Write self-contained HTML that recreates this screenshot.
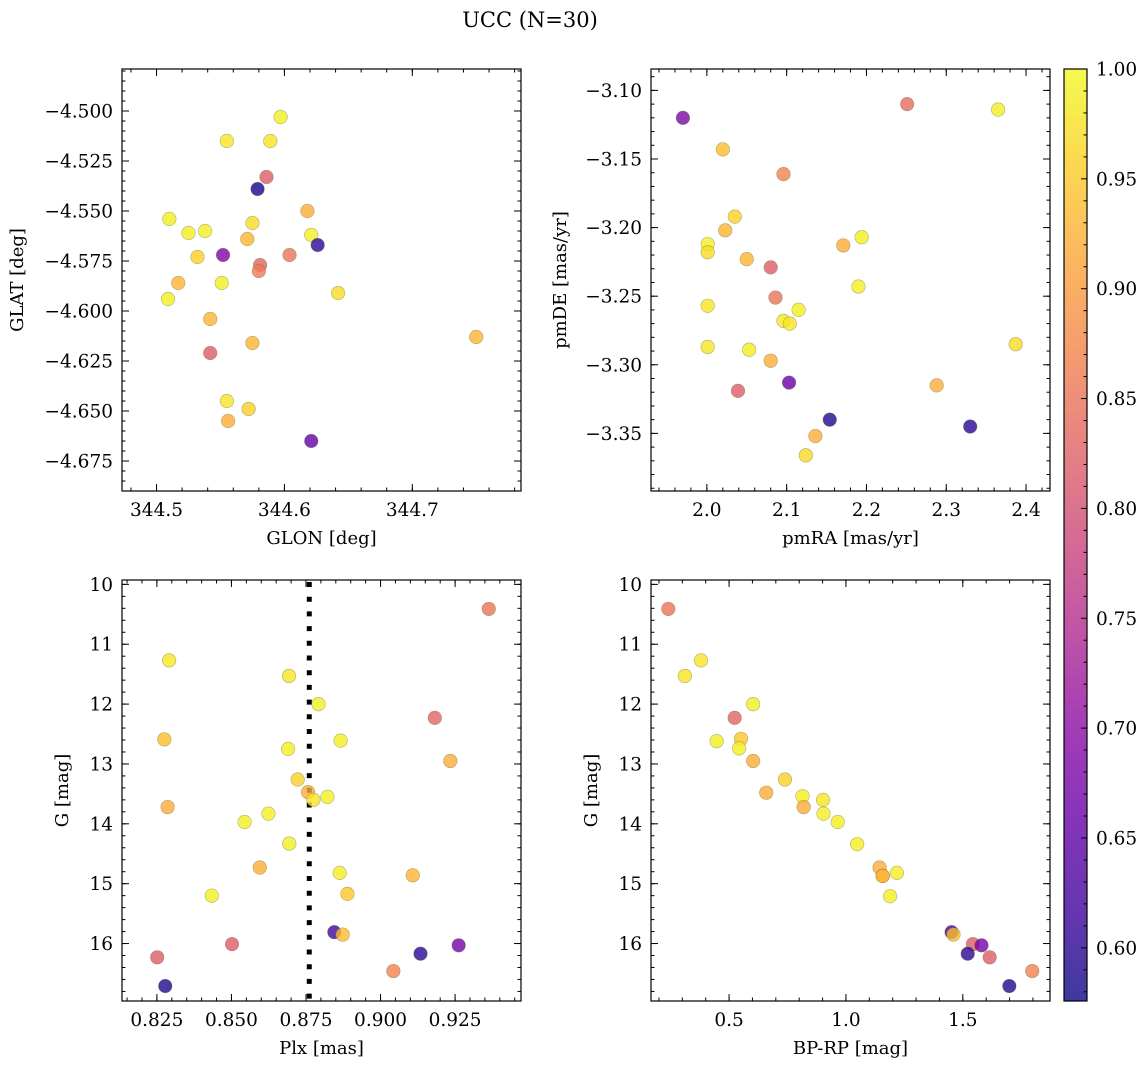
<!DOCTYPE html>
<html><head><meta charset="utf-8"><style>
html,body{margin:0;padding:0;background:#fff;}
svg{display:block;font-family:"DejaVu Serif","Liberation Serif",serif;}
</style></head><body>
<svg id="fig" width="1148" height="1068" viewBox="0 0 1148 1068" xmlns="http://www.w3.org/2000/svg">
<text x="530" y="27" font-size="21" text-anchor="middle">UCC (N=30)</text>
</svg>
<script>
// ---- data ----
const glon = [344.597,344.555,344.589,344.579,344.586,344.510,344.525,344.538,344.618,344.575,344.571,344.621,344.626,344.552,344.532,344.581,344.580,344.604,344.517,344.551,344.642,344.509,344.542,344.750,344.575,344.542,344.555,344.572,344.556,344.621];
const glat = [-4.503,-4.515,-4.515,-4.539,-4.533,-4.554,-4.561,-4.560,-4.550,-4.556,-4.564,-4.562,-4.567,-4.572,-4.573,-4.577,-4.580,-4.572,-4.586,-4.586,-4.591,-4.594,-4.604,-4.613,-4.616,-4.621,-4.645,-4.649,-4.655,-4.665];
const probTL = [0.99,0.98,0.98,0.58,0.82,0.99,0.99,0.99,0.92,0.97,0.93,0.99,0.60,0.68,0.96,0.83,0.86,0.85,0.93,0.99,0.97,0.99,0.93,0.93,0.93,0.82,0.98,0.96,0.92,0.65];

const pmra = [1.970,2.251,2.365,2.020,2.096,2.035,2.023,2.001,2.001,2.194,2.171,2.050,2.080,2.190,2.086,2.001,2.115,2.096,2.104,2.001,2.053,2.387,2.080,2.103,2.039,2.288,2.154,2.330,2.136,2.124];
const pmde = [-3.120,-3.110,-3.114,-3.143,-3.161,-3.192,-3.202,-3.212,-3.218,-3.207,-3.213,-3.223,-3.229,-3.243,-3.251,-3.257,-3.260,-3.268,-3.270,-3.287,-3.289,-3.285,-3.297,-3.313,-3.319,-3.315,-3.340,-3.345,-3.352,-3.366];
const probTR = [0.68,0.84,0.99,0.94,0.87,0.96,0.93,0.99,0.97,0.99,0.92,0.93,0.82,0.99,0.85,0.98,0.99,0.98,0.98,0.98,0.99,0.97,0.92,0.66,0.82,0.92,0.59,0.60,0.92,0.97];

const plx = [0.9363,0.8291,0.8693,0.8792,0.9182,0.8275,0.8866,0.8690,0.9234,0.8722,0.8757,0.8822,0.8775,0.8286,0.8624,0.8544,0.8694,0.8595,0.8863,0.9108,0.8889,0.8434,0.8845,0.8873,0.8502,0.9262,0.9134,0.8251,0.9043,0.8278];
const gBL = [10.41,11.27,11.53,12.00,12.23,12.59,12.61,12.75,12.95,13.26,13.47,13.55,13.60,13.72,13.83,13.97,14.33,14.73,14.82,14.86,15.17,15.20,15.81,15.85,16.01,16.03,16.17,16.23,16.46,16.71];
const probBL = [0.85,0.98,0.98,0.99,0.83,0.94,0.99,0.99,0.92,0.96,0.92,0.99,0.98,0.92,0.99,0.99,0.99,0.92,0.99,0.93,0.95,0.99,0.62,0.94,0.82,0.67,0.60,0.82,0.87,0.59];
const plxLine = [0.8761];

const bprp = [0.240,0.380,0.311,0.603,0.524,0.447,0.551,0.543,0.603,0.739,0.659,0.814,0.902,0.819,0.904,0.965,1.048,1.144,1.218,1.157,1.157,1.189,1.452,1.460,1.543,1.580,1.521,1.615,1.797,1.699];
const gBR = [10.41,11.27,11.53,12.00,12.23,12.62,12.58,12.74,12.95,13.26,13.48,13.54,13.60,13.72,13.83,13.97,14.34,14.73,14.82,14.87,14.87,15.21,15.81,15.85,16.01,16.03,16.17,16.23,16.46,16.71];
const probBR = [0.85,0.98,0.98,0.99,0.83,0.99,0.95,0.99,0.92,0.96,0.92,0.99,0.98,0.92,0.99,0.99,0.99,0.92,0.99,0.93,0.93,0.99,0.62,0.94,0.82,0.67,0.60,0.82,0.87,0.59];

const cbTicks = [0.60,0.65,0.70,0.75,0.80,0.85,0.90,0.95,1.00];
const cbMin = 0.5758, cbMax = 1.0;

const svg = document.getElementById('fig');
const NS = 'http://www.w3.org/2000/svg';
function mk(tag, attrs, parent){const e=document.createElementNS(NS,tag);for(const k in attrs)e.setAttribute(k,attrs[k]);(parent||svg).appendChild(e);return e;}

const stops=[[13,8,135],[65,4,157],[106,0,168],[143,13,164],[177,42,144],[204,71,120],[225,100,98],[242,132,75],[252,166,54],[252,206,37],[240,249,33]];
function plasma(t){t=Math.max(0,Math.min(1,t));const f=t*10,i=Math.min(9,Math.floor(f)),u=f-i;const a=stops[i],b=stops[i+1];
 return 'rgb('+[0,1,2].map(k=>Math.round(a[k]+(b[k]-a[k])*u)).join(',')+')';}
function pcol(p){return plasma((p-cbMin)/(cbMax-cbMin));}

function fmt(v,d){return (v<0?'\u2212':'')+Math.abs(v).toFixed(d);}

const TF=18.5, LF=18;

function panel(o){
 const g=mk('g',{});
 
 
 const X=v=>o.x0+(v-o.xmin)/(o.xmax-o.xmin)*(o.x1-o.x0);
 const Y=o.yinv? v=>o.y0+(v-o.ymin)/(o.ymax-o.ymin)*(o.y1-o.y0) : v=>o.y1-(v-o.ymin)/(o.ymax-o.ymin)*(o.y1-o.y0);
 const lo=(a,b)=>Math.min(a,b), hi=(a,b)=>Math.max(a,b);
 const tg=mk('g',{stroke:'#000','stroke-width':1},g);
 
 
 const eps=1e-9;
 function each(min,max,step,fn){const s=Math.ceil((min-eps)/step);for(let k=s;k*step<=max+eps;k++)fn(+(k*step).toFixed(6));}
 const xa=lo(o.xmin,o.xmax),xb=hi(o.xmin,o.xmax),ya=lo(o.ymin,o.ymax),yb=hi(o.ymin,o.ymax);
 each(xa,xb,o.xminor,v=>{const x=X(v);mk('line',{x1:x,x2:x,y1:o.y1,y2:o.y1-3.5},tg);mk('line',{x1:x,x2:x,y1:o.y0,y2:o.y0+3.5},tg);});
 each(ya,yb,o.yminor,v=>{const y=Y(v);mk('line',{x1:o.x0,x2:o.x0+3.5,y1:y,y2:y},tg);mk('line',{x1:o.x1,x2:o.x1-3.5,y1:y,y2:y},tg);});
 each(xa,xb,o.xmajor,v=>{const x=X(v);mk('line',{x1:x,x2:x,y1:o.y1,y2:o.y1-7},tg);mk('line',{x1:x,x2:x,y1:o.y0,y2:o.y0+7},tg);
   const t=mk('text',{x:x,y:o.y1+25,'font-size':TF,'text-anchor':'middle',stroke:'none'},g);t.textContent=fmt(v,o.xdec);
   
   });
 each(ya,yb,o.ymajor,v=>{const y=Y(v);mk('line',{x1:o.x0,x2:o.x0+7,y1:y,y2:y},tg);mk('line',{x1:o.x1,x2:o.x1-7,y1:y,y2:y},tg);
   const t=mk('text',{x:o.x0-9,y:y+6.5,'font-size':TF,'text-anchor':'end',stroke:'none'},g);t.textContent=fmt(v,o.ydec);
   
   });
 if(o.vline){o.vline.forEach(v=>{const l=mk('line',{x1:X(v),x2:X(v),y1:o.y0+2,y2:o.y1,stroke:'#000','stroke-width':5,'stroke-dasharray':'5 9.7'},g);
   
   });}
 for(let i=0;i<o.xs.length;i++){
   const c=mk('circle',{cx:X(o.xs[i]),cy:Y(o.ys[i]),r:6.8,fill:pcol(o.ps[i]),'fill-opacity':0.8,stroke:'#6b6b3a','stroke-opacity':0.5,'stroke-width':0.6},g);
   
   
 }
 const fr=mk('rect',{x:o.x0,y:o.y0,width:o.x1-o.x0,height:o.y1-o.y0,fill:'none',stroke:'#000','stroke-width':1.2},g);
 
 
 const xl=mk('text',{x:(o.x0+o.x1)/2,y:o.y1+53,'font-size':LF,'text-anchor':'middle'},g);xl.textContent=o.xlabel;
 
 
 const yx=o.ylx, yy=(o.y0+o.y1)/2;
 const yl=mk('text',{x:yx,y:yy,'font-size':LF,'text-anchor':'middle',transform:'rotate(-90 '+yx+' '+yy+')'},g);yl.textContent=o.ylabel;
 
 
}

panel({name:'glon-glat-panel',x0:122,x1:521,y0:69,y1:491,xmin:344.473,xmax:344.785,ymin:-4.690,ymax:-4.479,
 xmajor:0.1,xminor:0.02,ymajor:0.025,yminor:0.005,xdec:1,ydec:3,xs:glon,ys:glat,ps:probTL,xlabel:'GLON [deg]',ylabel:'GLAT [deg]',ylx:23});
panel({name:'pm-panel',x0:651,x1:1050,y0:69,y1:491,xmin:1.930,xmax:2.430,ymin:-3.392,ymax:-3.0844,
 xmajor:0.1,xminor:0.02,ymajor:0.05,yminor:0.01,xdec:1,ydec:2,xs:pmra,ys:pmde,ps:probTR,xlabel:'pmRA [mas/yr]',ylabel:'pmDE [mas/yr]',ylx:566});
panel({name:'plx-g-panel',x0:122,x1:521,y0:580,y1:1001,xmin:0.8133,xmax:0.9471,ymin:9.927,ymax:16.96,yinv:true,
 xmajor:0.025,xminor:0.005,ymajor:1,yminor:0.2,xdec:3,ydec:0,xs:plx,ys:gBL,ps:probBL,xlabel:'Plx [mas]',ylabel:'G [mag]',ylx:68,vline:plxLine});
panel({name:'cmd-panel',x0:651,x1:1050,y0:580,y1:1001,xmin:0.166,xmax:1.873,ymin:9.927,ymax:16.96,yinv:true,
 xmajor:0.5,xminor:0.1,ymajor:1,yminor:0.2,xdec:1,ydec:0,xs:bprp,ys:gBR,ps:probBR,xlabel:'BP-RP [mag]',ylabel:'G [mag]',ylx:597});

(function(){
 const x0=1064,x1=1087,y0=69,y1=1001;
 const g=mk('g',{});
 
 
 const defs=mk('defs',{},g);
 const lg=mk('linearGradient',{id:'cbg',x1:0,y1:1,x2:0,y2:0},defs);
 for(let i=0;i<=20;i++){const p=cbMin+(cbMax-cbMin)*i/20;mk('stop',{offset:(i/20),'stop-color':pcol(p)},lg);}
 const r=mk('rect',{x:x0,y:y0,width:x1-x0,height:y1-y0,fill:'url(#cbg)','fill-opacity':0.8},g);
 
 
 const Y=v=>y1-(v-cbMin)/(cbMax-cbMin)*(y1-y0);
 for(let k=58;k<=100;k++){const v=k/100;if(v<cbMin)continue;const y=Y(v);const maj=(k%5===0);
   mk('line',{x1:x1,x2:x1-(maj?6:3.5),y1:y,y2:y,stroke:'#000','stroke-width':1},g);}
 cbTicks.forEach(v=>{const t=mk('text',{x:x1+9,y:Y(v)+6.5,'font-size':TF},g);t.textContent=v.toFixed(2);
   
   });
 mk('rect',{x:x0,y:y0,width:x1-x0,height:y1-y0,fill:'none',stroke:'#000','stroke-width':1.2},g);
})();
</script>
</body></html>
